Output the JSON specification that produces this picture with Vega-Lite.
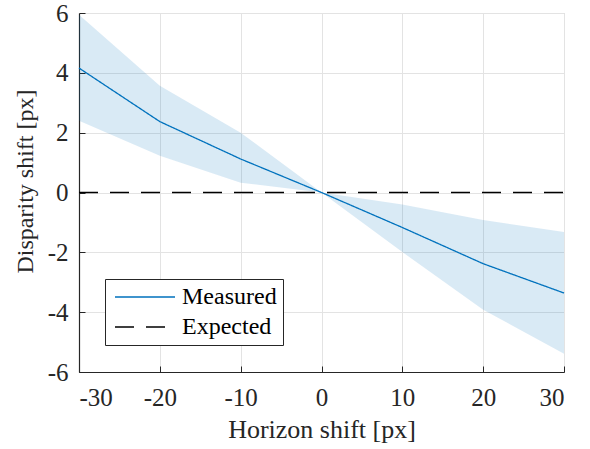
{
  "$schema": "https://vega.github.io/schema/vega-lite/v6.json",
  "autosize": "none",
  "width": 485,
  "height": 359,
  "padding": {"left": 79, "top": 13, "right": 26, "bottom": 77},
  "background": "white",
  "config": {
    "font": "Liberation Serif",
    "view": {"stroke": "#d0d0d0", "strokeWidth": 1},
    "axis": {
      "labelFont": "Liberation Serif",
      "titleFont": "Liberation Serif",
      "labelFontSize": 25,
      "titleFontSize": 26,
      "labelColor": "#262626",
      "titleColor": "#262626",
      "titleFontWeight": "normal",
      "domainColor": "#262626",
      "domainWidth": 1.2,
      "tickColor": "#262626",
      "tickSize": -6,
      "gridColor": "#e3e3e3",
      "gridWidth": 1
    }
  },
  "data": {
    "values": [
      {"x": -30, "y": 4.16, "lo": 2.40, "hi": 5.94, "series": "Measured"},
      {"x": -20, "y": 2.37, "lo": 1.23, "hi": 3.57, "series": "Measured"},
      {"x": -10, "y": 1.12, "lo": 0.33, "hi": 2.0, "series": "Measured"},
      {"x": 0, "y": 0, "lo": 0, "hi": 0, "series": "Measured"},
      {"x": 10, "y": -1.17, "lo": -1.99, "hi": -0.4, "series": "Measured"},
      {"x": 20, "y": -2.38, "lo": -3.92, "hi": -0.92, "series": "Measured"},
      {"x": 30, "y": -3.36, "lo": -5.39, "hi": -1.32, "series": "Measured"},
      {"x": -30, "y": 0, "series": "Expected"},
      {"x": 30, "y": 0, "series": "Expected"}
    ]
  },
  "layer": [
    {
      "transform": [{"filter": "datum.series == 'Measured'"}],
      "mark": {"type": "area", "color": "#0072BD", "opacity": 0.15},
      "encoding": {
        "x": {"field": "x", "type": "quantitative"},
        "y": {"field": "lo", "type": "quantitative"},
        "y2": {"field": "hi"}
      }
    },
    {
      "mark": {"type": "line", "strokeWidth": 1.3},
      "encoding": {
        "x": {
          "field": "x", "type": "quantitative",
          "scale": {"domain": [-30, 30], "nice": false, "zero": false},
          "axis": {"values": [-30, -20, -10, 0, 10, 20, 30], "title": "Horizon shift [px]", "labelExpr": "datum.value + ''", "labelFont": "Liberation Serif", "labelPadding": 19, "titlePadding": 6}
        },
        "y": {
          "field": "y", "type": "quantitative",
          "scale": {"domain": [-6, 6], "nice": false, "zero": false},
          "axis": {"values": [-6, -4, -2, 0, 2, 4, 6], "title": "Disparity shift [px]", "titleFontSize": 24, "titleY": 168, "labelExpr": "datum.value + ''", "labelFont": "Liberation Serif", "labelPadding": 17, "titlePadding": 10}
        },
        "color": {
          "field": "series", "type": "nominal",
          "scale": {"domain": ["Measured", "Expected"], "range": ["#0072BD", "#000000"]},
          "legend": {
            "title": null,
            "orient": "none",
            "legendX": 26,
            "legendY": 266,
            "symbolType": "M-3,0H3",
            "symbolSize": 400,
            "symbolOffset": 22,
            "symbolStrokeWidth": 1.3,
            "labelFont": "Liberation Serif",
            "labelFontSize": 24,
            "labelColor": "#000000",
            "strokeColor": "#262626",
            "fillColor": "white",
            "padding": 6,
            "rowPadding": 6,
            "labelOffset": 25
          }
        },
        "strokeDash": {
          "field": "series", "type": "nominal",
          "scale": {"domain": ["Measured", "Expected"], "range": [[1, 0], [19, 12]]},
          "legend": null
        }
      }
    }
  ]
}
